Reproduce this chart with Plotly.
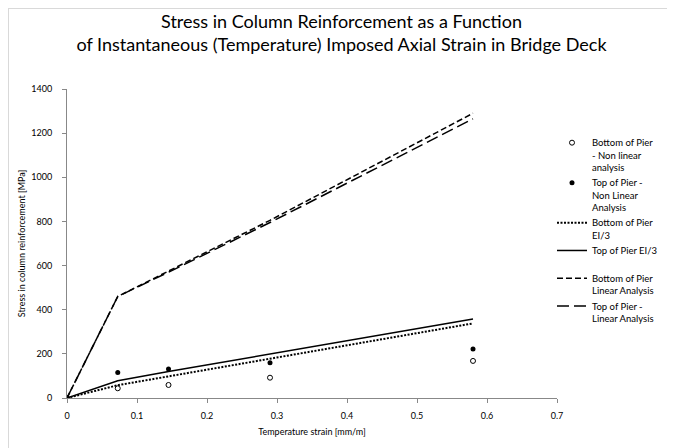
import plotly.graph_objects as go

strain = [0, 0.0725, 0.145, 0.29, 0.58]
bottom_nonlinear = [0, 44, 59, 92, 168]
top_nonlinear = [0, 116, 131, 160, 222]
bottom_ei3 = [0, 58, 98, 178, 338]
top_ei3 = [0, 78, 120, 199, 358]
bottom_linear = [0, 460, 575, 805, 1290]
top_linear = [0, 460, 570, 795, 1265]

names = [
    "Bottom of Pier<br>- Non linear<br>analysis",
    "Top of Pier -<br>Non Linear<br>Analysis",
    "Bottom of Pier<br>EI/3",
    "Top of Pier EI/3<br> ",
    "Bottom of Pier<br>Linear Analysis",
    "Top of Pier -<br>Linear Analysis",
]

FONT = "Lato, 'Noto Sans', sans-serif"
W, H = 667, 440
L, R, T, B = 59, 118, 81, 50
PW, PH = W - L - R, H - T - B

fig = go.Figure()
fig.add_trace(go.Scatter(x=strain, y=bottom_nonlinear, mode="markers", name=names[0], legendgroup="a",
                         marker=dict(symbol="circle-open", size=5, color="black", line=dict(width=1))))
fig.add_trace(go.Scatter(x=strain, y=top_nonlinear, mode="markers", name=names[1], legendgroup="b",
                         marker=dict(symbol="circle", size=5, color="black")))
fig.add_trace(go.Scatter(x=strain, y=bottom_ei3, mode="lines", name=names[2], legendgroup="c",
                         line=dict(color="black", width=2, dash="2px,1.5px")))
fig.add_trace(go.Scatter(x=strain, y=top_ei3, mode="lines", name=names[3], legendgroup="d",
                         line=dict(color="black", width=1.5)))
fig.add_trace(go.Scatter(x=strain, y=bottom_linear, mode="lines", name=names[4], legendgroup="e",
                         line=dict(color="black", width=1.5, dash="6px,3px")))
fig.add_trace(go.Scatter(x=strain, y=top_linear, mode="lines", name=names[5], legendgroup="f",
                         line=dict(color="black", width=1.5, dash="12px,5px")))

fig.update_layout(
    width=W, height=H,
    margin=dict(l=L, r=R, t=T, b=B),
    paper_bgcolor="white", plot_bgcolor="white",
    font=dict(family=FONT, size=9, color="black"),
    title=dict(text="Stress in Column Reinforcement as a Function<br>of Instantaneous (Temperature) Imposed Axial Strain in Bridge Deck",
               x=0.5, xref="container", xanchor="center", y=1 - 20 / H, yanchor="top",
               font=dict(family=FONT, size=18, color="black")),
    xaxis=dict(range=[0, 0.7], dtick=0.1, showline=True, linecolor="#888", linewidth=1,
               ticks="outside", ticklen=4, tickcolor="#888", showgrid=False, zeroline=False,
               ticklabelstandoff=5, automargin=False,
               title=dict(text="Temperature strain [mm/m]", font=dict(size=9), standoff=8),
               tickfont=dict(size=9)),
    yaxis=dict(range=[0, 1400], dtick=200, showline=True, linecolor="#888", linewidth=1,
               ticks="outside", ticklen=4, tickcolor="#888", showgrid=False, zeroline=False,
               ticklabelstandoff=8, automargin=False,
               title=dict(text="Stress in column reinforcement [MPa]", font=dict(size=9), standoff=4),
               tickfont=dict(size=9)),
    legend=dict(x=(544 - L) / PW, xanchor="left", y=(T + PH - 122) / PH, yanchor="top",
                font=dict(size=9.5), valign="top",
                tracegroupgap=0, itemwidth=30, bgcolor="rgba(0,0,0,0)"),
    shapes=[
        dict(type="line", xref="paper", yref="paper",
             x0=(0.5 - L) / PW, x1=(W - L) / PW, y0=(T + PH - 0.5) / PH, y1=(T + PH - 0.5) / PH,
             line=dict(color="#d9d9d9", width=1)),
        dict(type="line", xref="paper", yref="paper",
             x0=(0.5 - L) / PW, x1=(0.5 - L) / PW, y0=-B / PH, y1=(T + PH) / PH,
             line=dict(color="#d9d9d9", width=1)),
    ],
)

fig.write_html("out.html")
